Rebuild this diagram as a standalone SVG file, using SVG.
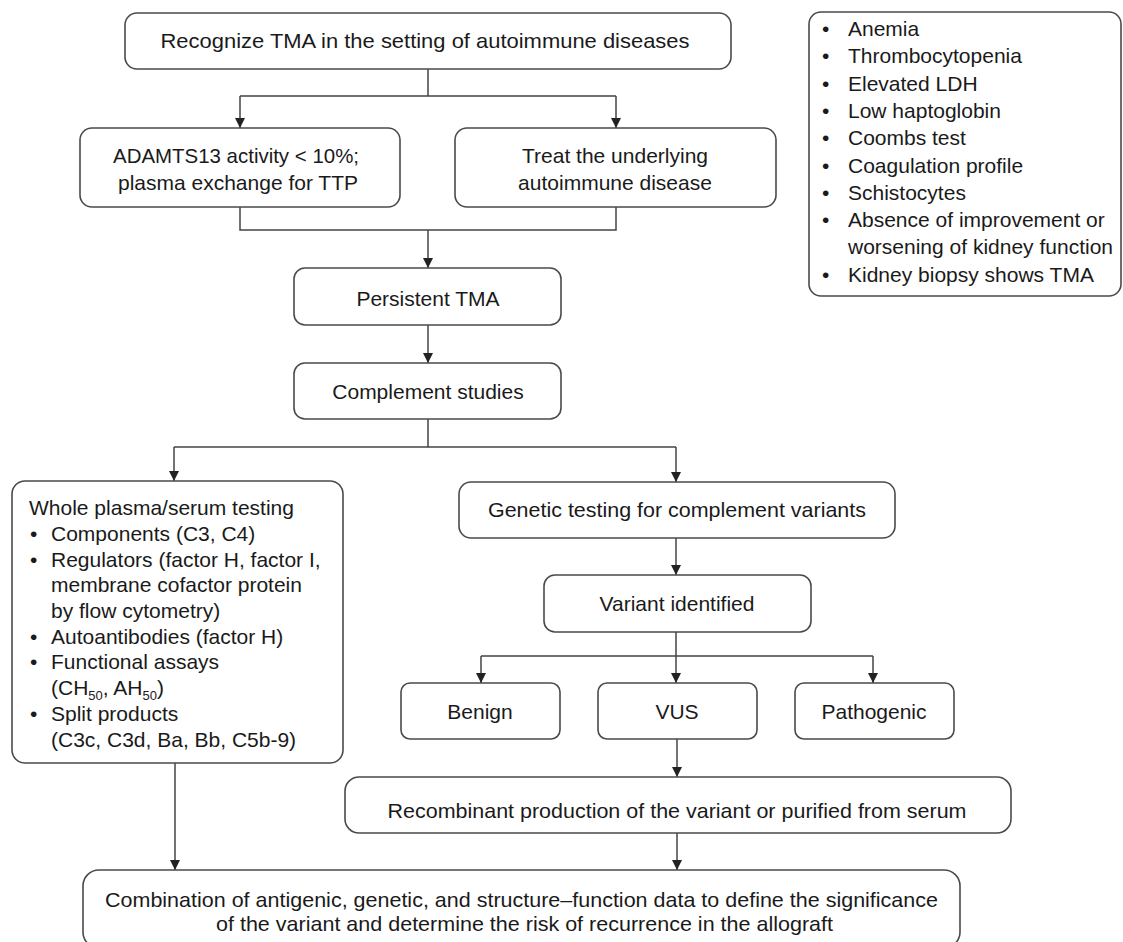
<svg xmlns="http://www.w3.org/2000/svg" width="1123" height="942" viewBox="0 0 1123 942">
<defs>
<marker id="ah" markerUnits="userSpaceOnUse" markerWidth="10" markerHeight="10" refX="10" refY="5" orient="auto">
<path d="M0,0 L10,5 L0,10 z" fill="#222"/>
</marker>
<style>
.box{fill:#fff;stroke:#4a4a4a;stroke-width:1.6}
.t{font-family:"Liberation Sans",Arial,sans-serif;font-size:21px;fill:#1a1a1a}
.c{text-anchor:middle}
.ln{fill:none;stroke:#444;stroke-width:1.5}
.sub{font-size:13px}
</style>
</defs>
<rect width="1123" height="942" fill="#fff"/>
<g id="connectors">
<path class="ln" d="M428,69 V96 M240,96 H616"/>
<path class="ln" d="M240,96 V128" marker-end="url(#ah)"/>
<path class="ln" d="M616,96 V128" marker-end="url(#ah)"/>
<path class="ln" d="M240,207 V230 H616 V207"/>
<path class="ln" d="M428,230 V268" marker-end="url(#ah)"/>
<path class="ln" d="M428,325 V363" marker-end="url(#ah)"/>
<path class="ln" d="M428,419 V447 M174,447 H676"/>
<path class="ln" d="M174,447 V481" marker-end="url(#ah)"/>
<path class="ln" d="M676,447 V482" marker-end="url(#ah)"/>
<path class="ln" d="M676,538 V575" marker-end="url(#ah)"/>
<path class="ln" d="M676,632 V656 M481,656 H873"/>
<path class="ln" d="M481,656 V683" marker-end="url(#ah)"/>
<path class="ln" d="M676,656 V683" marker-end="url(#ah)"/>
<path class="ln" d="M873,656 V683" marker-end="url(#ah)"/>
<path class="ln" d="M677,739 V777" marker-end="url(#ah)"/>
<path class="ln" d="M677,833 V870" marker-end="url(#ah)"/>
<path class="ln" d="M175,763 V870" marker-end="url(#ah)"/>
</g>
<g id="n-recognize">
<rect class="box" x="125" y="13" width="606" height="56" rx="12"/>
<text class="t c" x="425" y="48" textLength="529" lengthAdjust="spacingAndGlyphs">Recognize TMA in the setting of autoimmune diseases</text>
</g>
<g id="n-criteria">
<rect class="box" x="809" y="12" width="312" height="284" rx="12"/>
<g class="t">
<text x="822" y="36">•</text><text x="848" y="36">Anemia</text>
<text x="822" y="63">•</text><text x="848" y="63">Thrombocytopenia</text>
<text x="822" y="91">•</text><text x="848" y="91">Elevated LDH</text>
<text x="822" y="118">•</text><text x="848" y="118">Low haptoglobin</text>
<text x="822" y="145">•</text><text x="848" y="145">Coombs test</text>
<text x="822" y="173">•</text><text x="848" y="173">Coagulation profile</text>
<text x="822" y="200">•</text><text x="848" y="200">Schistocytes</text>
<text x="822" y="227">•</text><text x="848" y="227">Absence of improvement or</text>
<text x="848" y="254">worsening of kidney function</text>
<text x="822" y="282">•</text><text x="848" y="282">Kidney biopsy shows TMA</text>
</g>
</g>
<g id="n-adamts">
<rect class="box" x="80" y="128" width="320" height="79" rx="12"/>
<text class="t c" x="236" y="163" textLength="246" lengthAdjust="spacingAndGlyphs">ADAMTS13 activity &lt; 10%;</text>
<text class="t c" x="238" y="190">plasma exchange for TTP</text>
</g>
<g id="n-treat">
<rect class="box" x="455" y="128" width="321" height="79" rx="12"/>
<text class="t c" x="615" y="163">Treat the underlying</text>
<text class="t c" x="615" y="190">autoimmune disease</text>
</g>
<g id="n-persistent">
<rect class="box" x="294" y="268" width="267" height="57" rx="11"/>
<text class="t c" x="428" y="306">Persistent TMA</text>
</g>
<g id="n-complement">
<rect class="box" x="294" y="363" width="267" height="56" rx="11"/>
<text class="t c" x="428" y="399">Complement studies</text>
</g>
<g id="n-plasma">
<rect class="box" x="12" y="481" width="331" height="282" rx="13"/>
<g class="t">
<text x="29" y="515">Whole plasma/serum testing</text>
<text x="30" y="541">•</text><text x="51" y="541">Components (C3, C4)</text>
<text x="30" y="567">•</text><text x="51" y="567">Regulators (factor H, factor I,</text>
<text x="51" y="592">membrane cofactor protein</text>
<text x="51" y="618">by flow cytometry)</text>
<text x="30" y="644">•</text><text x="51" y="644">Autoantibodies (factor H)</text>
<text x="30" y="669">•</text><text x="51" y="669">Functional assays</text>
<text x="51" y="695">(CH<tspan class="sub" dy="5">50</tspan><tspan dy="-5">, AH</tspan><tspan class="sub" dy="5">50</tspan><tspan dy="-5">)</tspan></text>
<text x="30" y="721">•</text><text x="51" y="721">Split products</text>
<text x="51" y="747">(C3c, C3d, Ba, Bb, C5b-9)</text>
</g>
</g>
<g id="n-genetic">
<rect class="box" x="459" y="482" width="436" height="56" rx="12"/>
<text class="t c" x="677" y="517" textLength="378" lengthAdjust="spacingAndGlyphs">Genetic testing for complement variants</text>
</g>
<g id="n-variant">
<rect class="box" x="544" y="575" width="267" height="57" rx="11"/>
<text class="t c" x="677" y="611">Variant identified</text>
</g>
<g id="n-benign">
<rect class="box" x="401" y="683" width="159" height="56" rx="9"/>
<text class="t c" x="480" y="719">Benign</text>
</g>
<g id="n-vus">
<rect class="box" x="598" y="683" width="159" height="56" rx="9"/>
<text class="t c" x="677" y="719">VUS</text>
</g>
<g id="n-pathogenic">
<rect class="box" x="795" y="683" width="159" height="56" rx="9"/>
<text class="t c" x="874" y="719">Pathogenic</text>
</g>
<g id="n-recombinant">
<rect class="box" x="345" y="777" width="666" height="56" rx="14"/>
<text class="t c" x="677" y="818" textLength="579" lengthAdjust="spacingAndGlyphs">Recombinant production of the variant or purified from serum</text>
</g>
<g id="n-combination">
<rect class="box" x="83" y="870" width="877" height="78" rx="16"/>
<text class="t c" x="521.5" y="907" textLength="833" lengthAdjust="spacingAndGlyphs">Combination of antigenic, genetic, and structure–function data to define the significance</text>
<text class="t c" x="524.5" y="931" textLength="617" lengthAdjust="spacingAndGlyphs">of the variant and determine the risk of recurrence in the allograft</text>
</g>
</svg>
